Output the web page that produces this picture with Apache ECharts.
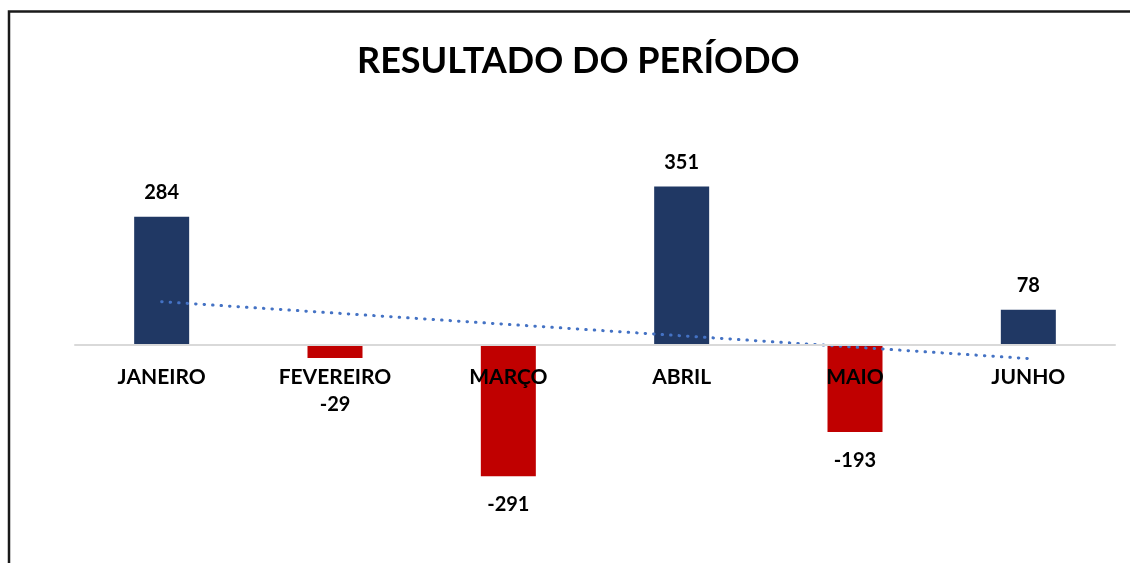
<!DOCTYPE html>
<html>
<head>
<meta charset="utf-8">
<script src="https://cdn.jsdelivr.net/npm/echarts@6/dist/echarts.min.js"></script>
<style>
  html, body { margin: 0; padding: 0; background: #fff; }
  #chart { width: 1130px; height: 563px; }
</style>
</head>
<body>
<div id="chart"></div>
<script>
    // dados
    var meses = ['JANEIRO', 'FEVEREIRO', 'MARÇO', 'ABRIL', 'MAIO', 'JUNHO'];
    var resultado = [284, -29, -291, 351, -193, 78];
    // linha de tendência: só os extremos, ligados em linha reta
    var tendencia = [96, null, null, null, null, -30];

    var corPositivo = '#203864',
        corNegativo = '#C00000';

    var chart = echarts.init(document.getElementById('chart'));

    var barData = [];
    for (var i = 0; i < resultado.length; i++) {
        var v = resultado[i];
        var item = {
            value: v,
            itemStyle: { color: v >= 0 ? corPositivo : corNegativo },
            label: { position: v >= 0 ? 'top' : 'bottom', distance: v >= 0 ? 14 : 18 }
        };
        // rótulo de fevereiro foi afastado para não ficar por cima do mês
        if (i == 1) item.label.distance = 36;
        barData.push(item);
    }

    var option = {
        backgroundColor: '#fff',
        animation: false,
        textStyle: { fontFamily: 'Lato' },
        title: {
            text: 'RESULTADO DO PERÍODO',
            left: 352,
            top: 38,
            textStyle: { fontFamily: 'Lato', fontWeight: 'bold', fontSize: 36, color: '#000' }
        },
        graphic: [{
            type: 'polyline',
            shape: { points: [[9, 600], [9, 11.5], [1140, 11.5]] },
            style: { stroke: '#1a1a1a', lineWidth: 2.5, fill: null },
            silent: true
        }],
        grid: { left: 75, right: 15, top: 164.5, bottom: 37.5, containLabel: false },
        xAxis: {
            type: 'category',
            data: meses,
            z: 10,
            offset: -180.5,
            axisLine: { onZero: false, lineStyle: { color: '#D9D9D9', width: 2 } },
            axisTick: { show: false },
            axisLabel: {
                margin: 22,
                color: '#000',
                fontFamily: 'Lato',
                fontWeight: 'bold',
                fontSize: 21,
                interval: 0
            }
        },
        yAxis: {
            type: 'value',
            min: -400,
            max: 400,
            show: false,
            splitLine: { show: false }
        },
        series: [
            {
                name: 'Resultado',
                type: 'bar',
                barWidth: 55,
                data: barData,
                label: {
                    show: true,
                    color: '#000',
                    fontFamily: 'Lato',
                    fontWeight: 'bold',
                    fontSize: 20
                }
            },
            {
                name: 'Tendência',
                type: 'line',
                data: tendencia,
                connectNulls: true,
                symbol: 'none',
                z: 5,
                lineStyle: {
                    color: '#4472C4',
                    width: 3,
                    type: [0.5, 8],
                    cap: 'round'
                }
            }
        ]
    };

    chart.setOption(option);
</script>
</body>
</html>
